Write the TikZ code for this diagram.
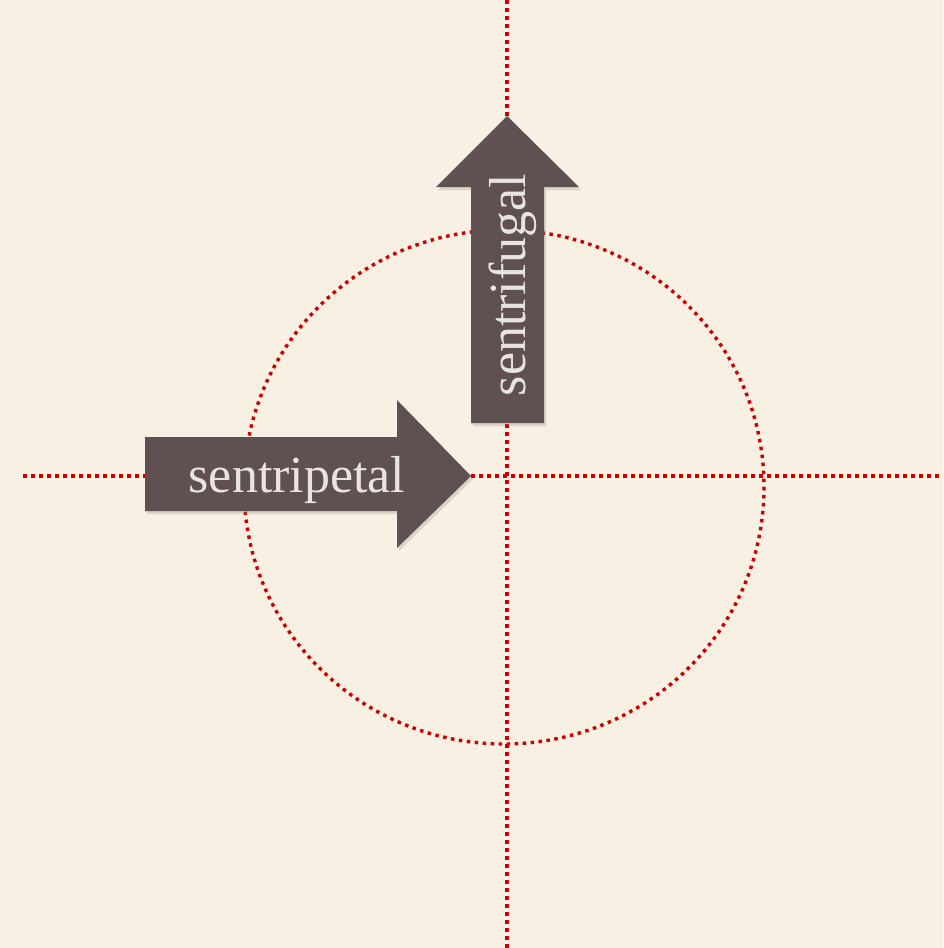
\documentclass[tikz,border=0pt]{standalone}
\usepackage{fontspec}
\setmainfont{Liberation Serif}
\usetikzlibrary{shadows}
\definecolor{paper}{HTML}{F8F1E3}
\definecolor{guide}{HTML}{CC0000}
\definecolor{arrowfill}{HTML}{5F5051}
\definecolor{labeltext}{HTML}{E8E4E2}
\tikzset{
  guideline/.style={guide, line width=3.4pt, dash pattern=on 3.5pt off 4.5pt},
  bigarrow/.style={fill=arrowfill, draw=none, drop shadow={opacity=0.25, shadow xshift=2pt, shadow yshift=-3pt}},
  arrowlabel/.style={text=labeltext, font=\fontsize{52}{60}\selectfont, inner sep=0pt}
}
\begin{document}
\begin{tikzpicture}[x=1pt, y=-1pt]
\useasboundingbox (0,0) rectangle (943,948);
\fill[paper] (0,0) rectangle (943,948);
% guides
\coordinate (vtop) at (507,0);
\coordinate (vbot) at (507,948);
\coordinate (hleft) at (23,476);
\coordinate (hright) at (943,476);
\coordinate (c) at (504,487);
\draw[guideline] (vtop) -- (vbot);
\draw[guideline] (hleft) -- (hright);
\draw[guideline] (c) ellipse [x radius=260, y radius=257];
% sentripetal arrow
\path[bigarrow] (145,437) -- (397,437) -- (397,400) -- (471,476) -- (397,548) -- (397,511) -- (145,511) -- cycle;
\node[arrowlabel, anchor=base] (cp) at (297,492) {sentripetal};
% sentrifugal arrow
\path[bigarrow] (471,423) -- (471,187) -- (436,187) -- (507,116) -- (579,187) -- (544,187) -- (544,423) -- cycle;
\node[arrowlabel, anchor=base, rotate=90] (cf) at (525,285) {sentrifugal};
\end{tikzpicture}
\end{document}
